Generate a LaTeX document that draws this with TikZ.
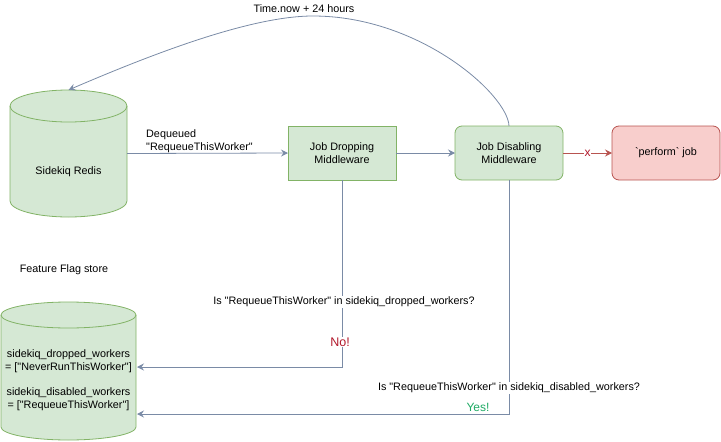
\documentclass[tikz,border=0pt]{standalone}
\usepackage{fontspec}
\setmainfont{Liberation Sans}[Ligatures=TeXOff]
\usetikzlibrary{arrows.meta}
\definecolor{gfill}{HTML}{D5E8D4}
\definecolor{gline}{HTML}{82B366}
\definecolor{rfill}{HTML}{F8CECC}
\definecolor{rline}{HTML}{B85450}
\definecolor{connc}{RGB}{122,139,166}
\definecolor{nored}{RGB}{178,24,43}
\definecolor{yesgreen}{RGB}{30,170,100}
\begin{document}
\begin{tikzpicture}[x=1pt,y=-1pt,
  txt/.style={font=\fontsize{10.8}{13}\selectfont, align=center, inner sep=0pt, text=black},
  gbox/.style={txt, draw=gline, fill=gfill, line width=0.8pt, minimum width=108pt, minimum height=54pt, outer sep=0pt},
  rbox/.style={txt, draw=rline, fill=rfill, line width=0.8pt, minimum width=108pt, minimum height=54pt, outer sep=0pt, rounded corners=7pt},
  cylshape/.style={draw=gline, fill=gfill, line width=0.8pt},
  tip/.style={-{Stealth[length=7pt,width=7pt,inset=2.5pt]}},
  conn/.style={draw=connc, line width=0.8pt, tip},
  redconn/.style={draw=rline, line width=0.8pt, tip},
  lbl/.style={txt, fill=white, inner sep=1pt},
  area/.style={inner sep=0pt, outer sep=0pt, minimum width=#1}
]
\useasboundingbox (0,0) rectangle (721,442);

% Sidekiq Redis cylinder
\path[cylshape] (10,106) -- (10,201) arc[start angle=180,end angle=0,x radius=58.5,y radius=16]
  -- (127,106) arc[start angle=0,end angle=-180,x radius=58.5,y radius=16] -- cycle;
\draw[draw=gline, line width=0.8pt] (10,106) arc[start angle=180,end angle=0,x radius=58.5,y radius=16];
\node[inner sep=0pt, outer sep=0pt, minimum width=117pt, minimum height=127pt] (redis) at (68.5,153.5) {};
\node[txt] (redislbl) at (68.5,172) {Sidekiq Redis};

% Feature flag store cylinder
\path[cylshape] (1,315) -- (1,427) arc[start angle=180,end angle=0,x radius=67.5,y radius=13]
  -- (136,315) arc[start angle=0,end angle=-180,x radius=67.5,y radius=13] -- cycle;
\draw[draw=gline, line width=0.8pt] (1,315) arc[start angle=180,end angle=0,x radius=67.5,y radius=13];
\node[inner sep=0pt, outer sep=0pt, minimum width=135pt, minimum height=138pt] (ff) at (68.5,371) {};
\node[txt] (fftitle) at (64,270) {Feature Flag store};
\node[txt] (ffdrop) at (68.5,361) {sidekiq\_dropped\_workers\\= ["NeverRunThisWorker"]};
\node[txt] (ffdis) at (68.5,399) {sidekiq\_disabled\_workers\\= ["RequeueThisWorker"]};
\coordinate (ffa) at (137,367);
\coordinate (ffb) at (137,414);

% Middleware boxes
\node[gbox] (drop) at (342,153) {Job Dropping\\Middleware};
\node[gbox, rounded corners=7pt] (dis) at (509,153) {Job Disabling\\Middleware};
\node[rbox] (perf) at (666,153) {`perform` job};

% Connectors
\draw[conn] (redis.east) -- (drop.west);
\node[txt, align=left, anchor=west] (deq) at (146,141) {Dequeued\\"RequeueThisWorker"};
\draw[conn] (drop.east) -- (dis.west);
\draw[redconn] (dis.east) -- node[txt, fill=white, inner sep=0.5pt, text=nored, font=\fontsize{12}{13}\selectfont] (xlbl) {x} (perf.west);

\draw[conn] (dis.north) .. controls (508,95) and (420,16) .. (313,16)
  .. controls (250,16) and (150,55) .. (redis.north);
\node[txt] (timelbl) at (304,9) {Time.now + 24 hours};

\draw[conn] (drop.south) |- (ffa);
\node[lbl] (q1) at (344,302) {Is "RequeueThisWorker" in sidekiq\_dropped\_workers?};
\node[lbl, text=nored, font=\fontsize{12.5}{13}\selectfont] (nolbl) at (340,342) {No!};

\draw[conn] (dis.south) |- (ffb);
\node[lbl] (q2) at (509,388) {Is "RequeueThisWorker" in sidekiq\_disabled\_workers?};
\node[txt, text=yesgreen, font=\fontsize{12}{13}\selectfont] (yeslbl) at (478,407) {Yes!};
\end{tikzpicture}
\end{document}
